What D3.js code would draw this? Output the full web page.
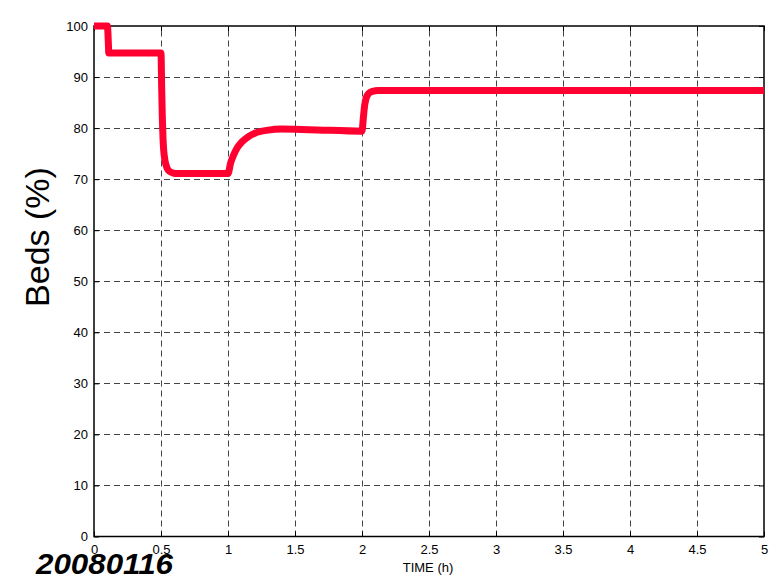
<!DOCTYPE html>
<html>
<head>
<meta charset="utf-8">
<script src="https://cdn.jsdelivr.net/npm/d3@7"></script>
<style>
  body { margin: 0; background: #fff; }
  svg { display: block; font-family: "Liberation Sans", Arial, sans-serif; }
</style>
</head>
<body>
<svg id="chart" width="772" height="578"></svg>
<script>
// Bed occupancy over time (hours)
const timeH = [0, 0.1, 0.108, 0.11, 0.5, 0.505, 0.51, 0.515, 0.52, 0.53, 0.545, 0.565, 0.59, 0.62,
  1.0, 1.02, 1.04, 1.07, 1.1, 1.15, 1.2, 1.3, 1.4, 1.6, 2.0,
  2.01, 2.02, 2.03, 2.05, 2.08, 2.12, 5.0];
const bedsPct = [100, 100, 96, 94.7, 94.7, 88, 82, 78, 75.7, 73.6, 72.2, 71.5, 71.2, 71.1,
  71.1, 73.2, 74.6, 76.2, 77.2, 78.3, 79.0, 79.6, 79.8, 79.7, 79.4,
  82.0, 84.5, 85.8, 86.8, 87.2, 87.35, 87.35];
const xTicks = [0, 0.5, 1, 1.5, 2, 2.5, 3, 3.5, 4, 4.5, 5];
const yTicks = [0, 10, 20, 30, 40, 50, 60, 70, 80, 90, 100];

const svg = d3.select("#chart");
const plotLeft = 94, plotRight = 764, plotTop = 26, plotBottom = 536.5;

const x = d3.scaleLinear().domain([0, 5]).range([plotLeft, plotRight]);
const y = d3.scaleLinear().domain([0, 100]).range([plotBottom, plotTop]);

// dashed grid
const grid = svg.append("g").attr("stroke", "#444").attr("stroke-width", 1)
  .attr("stroke-dasharray", "6,4");
grid.selectAll(".vx").data(xTicks.slice(1, -1)).join("line")
  .attr("x1", d => Math.round(x(d)) + 0.5).attr("x2", d => Math.round(x(d)) + 0.5)
  .attr("y1", plotBottom).attr("y2", plotTop);
grid.selectAll(".hy").data(yTicks.slice(1, -1)).join("line")
  .attr("y1", d => Math.round(y(d)) + 0.5).attr("y2", d => Math.round(y(d)) + 0.5)
  .attr("x1", plotLeft).attr("x2", plotRight);

// frame
svg.append("rect").attr("x", plotLeft).attr("y", plotTop)
  .attr("width", plotRight - plotLeft).attr("height", plotBottom - plotTop)
  .attr("fill", "none").attr("stroke", "#000").attr("stroke-width", 1.5);

// axes with inward ticks
const xAxis = svg.append("g").attr("transform", `translate(0,${plotBottom})`)
  .call(d3.axisBottom(x).tickValues(xTicks).tickSizeInner(-5).tickSizeOuter(0).tickPadding(8)
    .tickFormat(d3.format("")));
const xAxisTop = svg.append("g").attr("transform", `translate(0,${plotTop})`)
  .call(d3.axisTop(x).tickValues(xTicks).tickSizeInner(-5).tickSizeOuter(0).tickFormat(""));
const yAxis = svg.append("g").attr("transform", `translate(${plotLeft},0)`)
  .call(d3.axisLeft(y).tickValues(yTicks).tickSizeInner(-5).tickSizeOuter(0).tickPadding(6));
const yAxisRight = svg.append("g").attr("transform", `translate(${plotRight},0)`)
  .call(d3.axisRight(y).tickValues(yTicks).tickSizeInner(-5).tickSizeOuter(0).tickFormat(""));
[xAxis, xAxisTop, yAxis, yAxisRight].forEach(g => {
  g.select(".domain").remove();
  g.selectAll(".tick line").attr("stroke", "#000");
  g.selectAll("text").attr("font-size", 13).attr("fill", "#000")
    .attr("font-family", "Liberation Sans, Arial, sans-serif");
});

// the series
const line = d3.line().x((d, i) => x(timeH[i])).y(d => y(d)).curve(d3.curveMonotoneX);
svg.append("path").datum(bedsPct).attr("d", line)
  .attr("fill", "none").attr("stroke", "#ff0030").attr("stroke-width", 7)
  .attr("stroke-linejoin", "round").attr("stroke-linecap", "butt");

// labels
svg.append("text").attr("x", 428).attr("y", 572).attr("text-anchor", "middle")
  .attr("font-size", 13).text("TIME (h)");
svg.append("text").attr("transform", "translate(49,237) rotate(-90)")
  .attr("text-anchor", "middle").attr("font-size", 34).text("Beds (%)");
svg.append("text").attr("x", 36).attr("y", 574).attr("font-size", 29)
  .attr("textLength", 137).attr("lengthAdjust", "spacingAndGlyphs")
  .attr("font-weight", "bold").attr("font-style", "italic").text("20080116");
</script>
</body>
</html>
